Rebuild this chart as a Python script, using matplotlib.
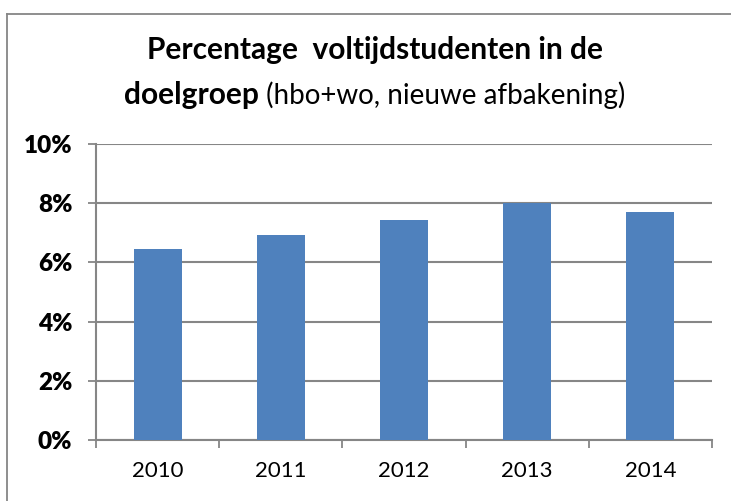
import matplotlib.pyplot as plt
from matplotlib.lines import Line2D
from matplotlib.ticker import FuncFormatter

plt.rcParams['font.family'] = ['Lato', 'DejaVu Sans']

years = ['2010', '2011', '2012', '2013', '2014']
percentages = [6.46, 6.92, 7.43, 8.01, 7.69]
yticks = [0, 2, 4, 6, 8, 10]

grid_col = '#868686'
bar_col = '#4F81BD'

fig = plt.figure(figsize=(7.31, 5.01), dpi=100)
ax = fig.add_axes([96 / 731, 1 - 440 / 501, (712 - 96) / 731, (440 - 144) / 501])

x = list(range(len(years)))
ax.bar(x, percentages, width=0.39, color=bar_col, zorder=3)

ax.set_xlim(-0.5, len(years) - 0.5)
ax.set_ylim(0, 10)
ax.set_yticks(yticks)
ax.yaxis.set_major_formatter(FuncFormatter(lambda v, p: f'{v:.0f}%'))
ax.set_xticks(x)
ax.set_xticklabels(years)
ax.set_xticks([i - 0.5 for i in range(len(years) + 1)], minor=True)

ax.tick_params(axis='x', which='major', length=0, pad=15, labelsize=16, labelcolor='black')
ax.tick_params(axis='x', which='minor', length=6, width=1.3, color=grid_col, direction='out')
ax.tick_params(axis='y', length=6, width=1.3, color=grid_col, pad=11, labelsize=17.5)
for lab in ax.get_yticklabels():
    lab.set_fontweight('heavy')

ax.grid(axis='y', color=grid_col, linewidth=1.5, zorder=0)
for s in ['top', 'right']:
    ax.spines[s].set_visible(False)
for s in ['left', 'bottom']:
    ax.spines[s].set_color(grid_col)
    ax.spines[s].set_linewidth(1.5)

# title
fs = 21.5
fig.text(0.513, 1 - 50 / 501, 'Percentage  voltijdstudenten in de', ha='center', va='center',
         fontsize=fs, fontweight='bold')
t1 = fig.text(0.513, 1 - 95 / 501, 'doelgroep', ha='right', va='center', fontsize=fs,
              fontweight='bold')
fig.canvas.draw()
r = fig.canvas.get_renderer()
bb1 = t1.get_window_extent(r)
t2 = fig.text(0, 1 - 95 / 501, ' (hbo+wo, nieuwe afbakening)', ha='left', va='center',
              fontsize=fs - 1.5)
bb2 = t2.get_window_extent(r)
total = bb1.width + bb2.width
left = 0.513 * 731 - total / 2
t1.set_ha('left')
t1.set_x(left / 731)
t2.set_x((left + bb1.width) / 731)

# outer chart frame
top = 1 - 14 / 501
lx = 7 / 731
fig.add_artist(Line2D([lx, 1], [top, top], color=grid_col, linewidth=1.3, transform=fig.transFigure))
fig.add_artist(Line2D([lx, lx], [0, top], color=grid_col, linewidth=1.3, transform=fig.transFigure))

fig.savefig('out.png', dpi=100)
